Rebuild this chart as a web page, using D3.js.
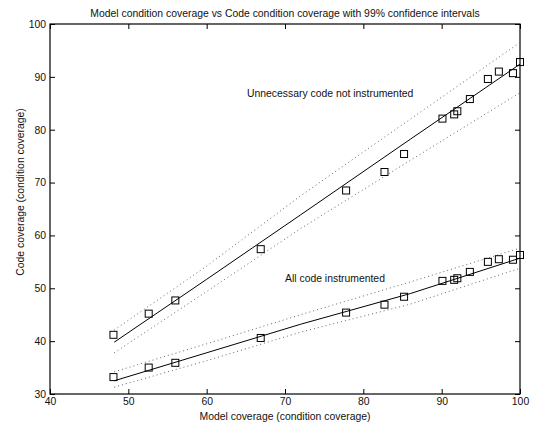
<!DOCTYPE html>
<html>
<head>
<meta charset="utf-8">
<script src="https://cdn.jsdelivr.net/npm/d3@7"></script>
<style>
    body { margin: 0; background: #fff; }
    svg { display: block; font-family: "Liberation Sans", Arial, Helvetica, sans-serif; }
</style>
</head>
<body>
<div id="chart"></div>
<script>
// measured points: model coverage (x) vs code coverage (y)
const modelCov = [48.1, 52.6, 56.0, 66.9, 77.8, 82.7, 85.2, 90.1, 91.6, 92.0, 93.6, 95.9, 97.3, 99.1, 100];
const codeCovNotInstr = [41.2, 45.2, 47.7, 57.4, 68.5, 72.0, 75.4, 82.1, 82.9, 83.5, 85.8, 89.6, 91.0, 90.7, 92.8];
const codeCovAll = [33.2, 35.0, 35.9, 40.6, 45.4, 46.9, 48.4, 51.4, 51.6, 51.9, 53.1, 55.0, 55.5, 55.4, 56.3];

// fitted line and 99% confidence bounds, read at these x positions
const fitX = [48.2, 60, 72, 86, 100];
const notInstrFit = [39.8, 51.7, 63.9, 78.2, 92.4];
const notInstrHi = [42.1, 54.2, 67.5, 82.0, 96.5];
const notInstrLo = [37.8, 49.4, 61.3, 74.2, 87.0];
const allFit = [32.5, 37.8, 43.2, 49.0, 55.7];
const allHi = [34.2, 39.5, 45.0, 51.2, 57.6];
const allLo = [31.3, 36.3, 41.7, 47.0, 53.8];

const xTicks = [40, 50, 60, 70, 80, 90, 100];
const yTicks = [30, 40, 50, 60, 70, 80, 90, 100];

const title = "Model condition coverage vs Code condition coverage with 99% confidence intervals";
const xLabel = "Model coverage (condition coverage)";
const yLabel = "Code coverage (condition coverage)";
const notes = [
    {x: 65.15, y: 86.9, text: "Unnecessary code not instrumented"},
    {x: 70.0, y: 51.9, text: "All code instrumented"}
];

const width = 534;
const height = 427;
const margin = {top: 24, right: 14, bottom: 33, left: 50};

const svg = d3.select("#chart").append("svg")
    .attr("width", width)
    .attr("height", height);

const x = d3.scaleLinear().domain([40, 100]).range([margin.left, width - margin.right]);
const y = d3.scaleLinear().domain([30, 100]).range([height - margin.bottom, margin.top]);

const fontSize = 10.4;
const tickLen = 5;

// axes with inward ticks on all four sides
svg.append("g")
    .attr("transform", `translate(0,${y(30)})`)
    .call(d3.axisBottom(x).tickValues(xTicks).tickSizeInner(-tickLen).tickSizeOuter(0).tickPadding(4));
svg.append("g")
    .attr("transform", `translate(0,${y(100)})`)
    .call(d3.axisTop(x).tickValues(xTicks).tickSizeInner(-tickLen).tickSizeOuter(0).tickFormat(""));
svg.append("g")
    .attr("transform", `translate(${x(40)},0)`)
    .call(d3.axisLeft(y).tickValues(yTicks).tickSizeInner(-tickLen).tickSizeOuter(0).tickPadding(4));
svg.append("g")
    .attr("transform", `translate(${x(100)},0)`)
    .call(d3.axisRight(y).tickValues(yTicks).tickSizeInner(-tickLen).tickSizeOuter(0).tickFormat(""));

svg.selectAll(".domain").remove();
svg.selectAll(".tick line").attr("stroke", "#000");
svg.selectAll(".tick text")
    .attr("font-size", fontSize)
    .attr("font-family", "Liberation Sans, Arial, sans-serif")
    .attr("fill", "#111");

svg.append("rect")
    .attr("x", x(40))
    .attr("y", y(100))
    .attr("width", x(100) - x(40))
    .attr("height", y(30) - y(100))
    .attr("fill", "none")
    .attr("stroke", "#000")
    .attr("stroke-width", 1.2);

const line = d3.line()
    .x(d => x(d[0]))
    .y(d => y(d[1]));

const plot = svg.append("g");

[notInstrHi, notInstrLo, allHi, allLo].forEach(vals => {
    plot.append("path")
        .datum(fitX.map((v, i) => [v, vals[i]]))
        .attr("d", line)
        .attr("fill", "none")
        .attr("stroke", "#666")
        .attr("stroke-width", 1)
        .attr("stroke-dasharray", "1,3");
});

[notInstrFit, allFit].forEach(vals => {
    plot.append("path")
        .datum(fitX.map((v, i) => [v, vals[i]]))
        .attr("d", line)
        .attr("fill", "none")
        .attr("stroke", "#000")
        .attr("stroke-width", 1);
});

const sq = 7;
[codeCovNotInstr, codeCovAll].forEach(vals => {
    plot.append("g")
        .selectAll("rect")
        .data(modelCov.map((v, i) => [v, vals[i]]))
        .enter()
        .append("rect")
        .attr("x", d => x(d[0]) - sq / 2)
        .attr("y", d => y(d[1]) - sq / 2)
        .attr("width", sq)
        .attr("height", sq)
        .attr("fill", "none")
        .attr("stroke", "#000")
        .attr("stroke-width", 1);
});

svg.selectAll(".note")
    .data(notes)
    .enter()
    .append("text")
    .attr("class", "note")
    .attr("x", d => x(d.x))
    .attr("y", d => y(d.y))
    .attr("dy", "0.35em")
    .attr("font-size", fontSize)
    .attr("fill", "#111")
    .text(d => d.text);

svg.append("text")
    .attr("x", (x(40) + x(100)) / 2)
    .attr("y", 13)
    .attr("dy", "0.35em")
    .attr("text-anchor", "middle")
    .attr("font-size", fontSize)
    .attr("fill", "#111")
    .text(title);

svg.append("text")
    .attr("x", (x(40) + x(100)) / 2)
    .attr("y", 416)
    .attr("dy", "0.35em")
    .attr("text-anchor", "middle")
    .attr("font-size", fontSize)
    .attr("fill", "#111")
    .text(xLabel);

svg.append("text")
    .attr("transform", "translate(20,192) rotate(-90)")
    .attr("dy", "0.35em")
    .attr("text-anchor", "middle")
    .attr("font-size", fontSize)
    .attr("fill", "#111")
    .text(yLabel);
</script>
</body>
</html>
